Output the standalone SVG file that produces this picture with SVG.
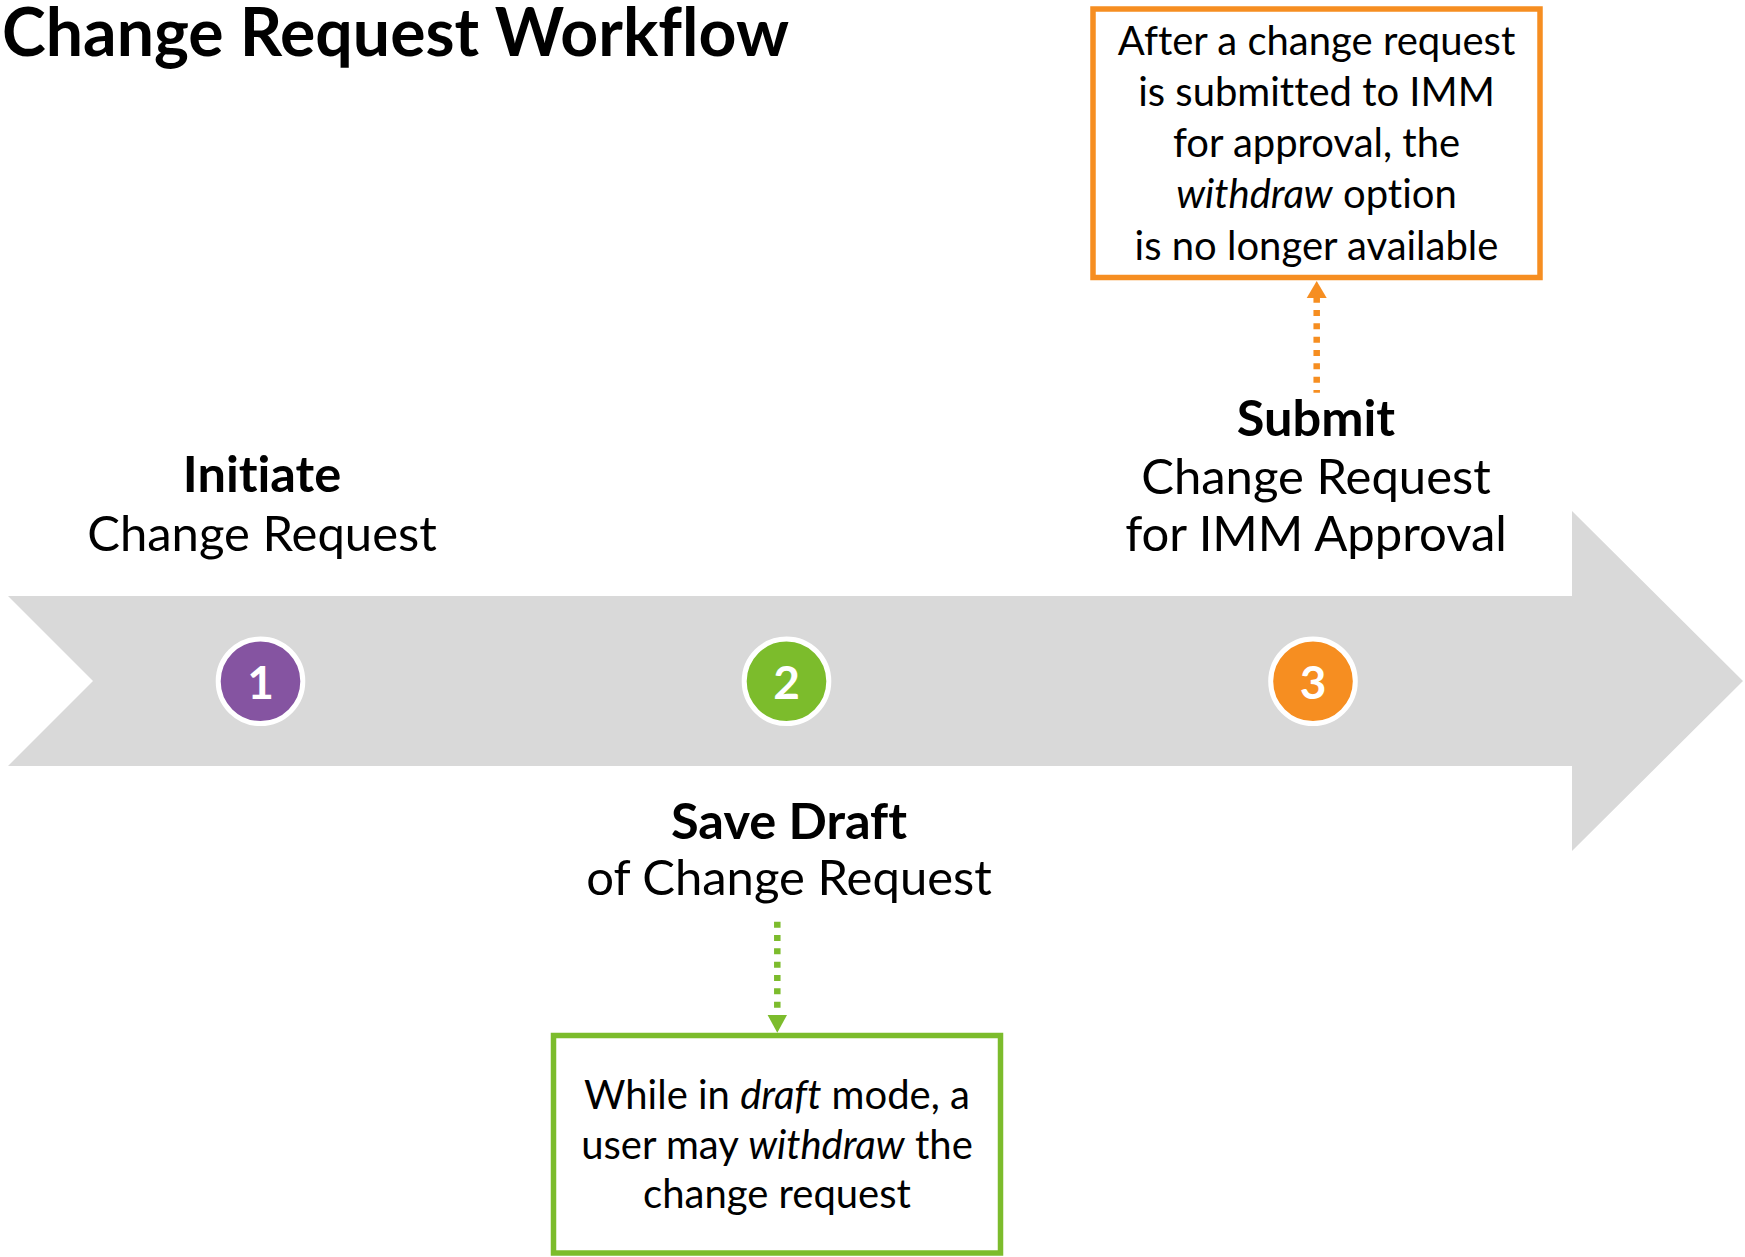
<svg xmlns="http://www.w3.org/2000/svg" width="1745" height="1257" viewBox="0 0 1745 1257">
  <style>
    text { font-family: Lato, "Open Sans", "Liberation Sans", sans-serif; fill: #000; text-anchor: middle; font-variant-ligatures: none; }
    .title { font-size: 67px; font-weight: 700; text-anchor: start; }
    .lbl { font-size: 49px; }
    .lblb { font-size: 50.5px; font-weight: 700; }
    .note { font-size: 40px; }
    .num { font-size: 46px; font-weight: 700; fill: #fff; }
    .i { font-style: italic; }
    .ring { stroke: #fff; stroke-width: 5; }
    .box { fill: #fff; stroke-width: 5.5; }
    .dash { fill: none; stroke-width: 6.5; stroke-dasharray: 6 7.33; }
  </style>
  <rect width="1745" height="1257" fill="#fff"/>
  <g id="title">
    <text class="title" x="2" y="56" textLength="787" lengthAdjust="spacingAndGlyphs">Change Request Workflow</text>
  </g>
  <g id="timeline-arrow">
    <polygon points="8,596 1572,596 1572,511 1743,681 1572,851 1572,766 8,766 93,681" fill="#D9D9D9"/>
  </g>
  <g id="step1">
    <circle class="ring" cx="260.5" cy="681.3" r="42.3" fill="#8554A1"/>
    <text class="num" x="260.5" y="699">1</text>
    <text class="lblb" x="262" y="492">Initiate</text>
    <text class="lbl" x="262" y="551">Change Request</text>
  </g>
  <g id="step2">
    <circle class="ring" cx="786.5" cy="681.3" r="42.3" fill="#7CBC2C"/>
    <text class="num" x="786.5" y="699">2</text>
    <text class="lblb" x="789" y="839">Save Draft</text>
    <text class="lbl" x="789" y="895">of Change Request</text>
  </g>
  <g id="step3">
    <circle class="ring" cx="1313" cy="681.3" r="42.3" fill="#F68E21"/>
    <text class="num" x="1313" y="699">3</text>
    <text class="lblb" x="1316" y="436">Submit</text>
    <text class="lbl" x="1316" y="494">Change Request</text>
    <text class="lbl" x="1316" y="551">for IMM Approval</text>
  </g>
  <g id="note-submit">
    <rect class="box" x="1093" y="9" width="447" height="268.5" stroke="#F68E21"/>
    <text class="note" x="1316.5" y="55">After a change request</text>
    <text class="note" x="1316.5" y="106">is submitted to IMM</text>
    <text class="note" x="1316.5" y="157">for approval, the</text>
    <text class="note" x="1316.5" y="207.5"><tspan class="i">withdraw</tspan> option</text>
    <text class="note" x="1316.5" y="259.5">is no longer available</text>
  </g>
  <g id="note-draft">
    <rect class="box" x="553.5" y="1035.5" width="447" height="217.5" stroke="#7CBC2C"/>
    <text class="note" x="777" y="1109">While in <tspan class="i">draft</tspan> mode, a</text>
    <text class="note" x="777" y="1159">user may <tspan class="i">withdraw</tspan> the</text>
    <text class="note" x="777" y="1208">change request</text>
  </g>
  <g id="connectors">
    <path class="dash" d="M1316.7,296.7 V392.7" stroke="#F68E21"/>
    <polygon points="1316.7,281 1326.7,298 1306.7,298" fill="#F68E21"/>
    <path class="dash" d="M777.3,921.7 V1015" stroke="#7CBC2C"/>
    <polygon points="777.3,1032.7 787,1015 767.6,1015" fill="#7CBC2C"/>
  </g>
</svg>
